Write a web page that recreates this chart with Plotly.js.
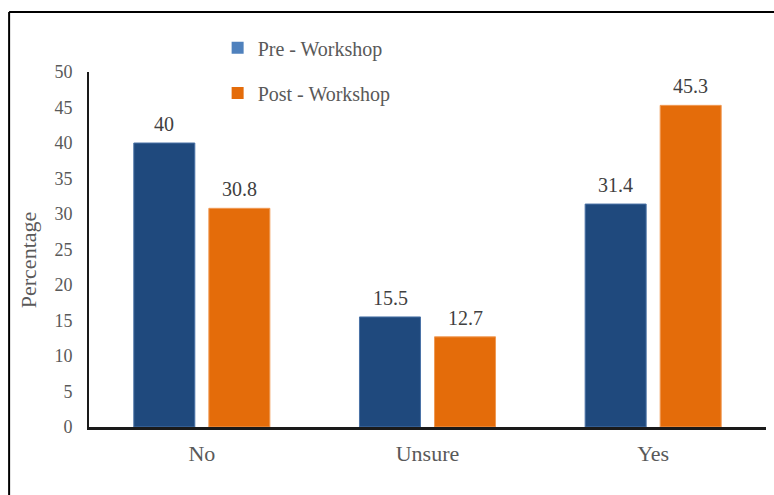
<!DOCTYPE html>
<html>
<head>
<meta charset="utf-8">
<script src="https://cdn.plot.ly/plotly-3.0.1.min.js"></script>
<style>
  html, body { margin: 0; padding: 0; background: #ffffff; }
  #chart { width: 774px; height: 495px; }
</style>
</head>
<body>
<div id="chart"></div>
<script>
// Survey responses before and after the workshop (percent of respondents)
const categories = ['No', 'Unsure', 'Yes'];
const preWorkshop = [40, 15.5, 31.4];
const postWorkshop = [30.8, 12.7, 45.3];
const seriesNames = ['Pre - Workshop', 'Post - Workshop'];
const yTicks = [0, 5, 10, 15, 20, 25, 30, 35, 40, 45, 50];
const yTitle = 'Percentage';

const barBlue = '#1F497D';
const barOrange = '#E46C0A';
const keyBlue = '#4F81BD';
const keyOrange = '#E46C0A';
const serif = 'Liberation Serif';

const barTrace = (name, values, fill, edge, group) => ({
  type: 'bar',
  name: name,
  x: categories,
  y: values,
  offsetgroup: group,
  marker: { color: fill, line: { color: edge, width: 1 } },
  showlegend: false,
  hoverinfo: 'x+y'
});

// legend-only swatches, each in its own legend box
const keyTrace = (name, fill, legendId, group) => ({
  type: 'bar',
  name: name,
  x: [null],
  y: [null],
  offsetgroup: group,
  marker: { color: fill },
  showlegend: true,
  legend: legendId,
  hoverinfo: 'skip'
});

const data = [
  barTrace(seriesNames[0], preWorkshop, barBlue, '#4A72A6', 'pre'),
  barTrace(seriesNames[1], postWorkshop, barOrange, '#F09A55', 'post'),
  keyTrace(seriesNames[0], keyBlue, 'legend', 'pre'),
  keyTrace(seriesNames[1], keyOrange, 'legend2', 'post')
];

// value labels above each bar; the two groups sit half a bar slot either side
const slotShift = 37.5;
const valueLabels = (values, shift) => values.map((v, i) => ({
  x: categories[i],
  y: v,
  xref: 'x',
  yref: 'y',
  text: String(v),
  showarrow: false,
  xanchor: 'center',
  yanchor: 'bottom',
  xshift: shift,
  yshift: 6,
  font: { family: serif, size: 20, color: '#404040' }
}));

// rotated axis title, sitting a little below the plot's middle
const axisTitle = {
  text: yTitle,
  xref: 'paper',
  yref: 'paper',
  x: -0.090,
  y: 0.47,
  xanchor: 'center',
  yanchor: 'middle',
  textangle: -90,
  showarrow: false,
  font: { family: serif, size: 22, color: '#595959' }
};

const legendStyle = (yPos) => ({
  x: 0.19,
  xanchor: 'left',
  y: yPos,
  yanchor: 'middle',
  bgcolor: 'rgba(0,0,0,0)',
  borderwidth: 0,
  font: { family: serif, size: 20, color: '#595959' },
  itemwidth: 30
});

const layout = {
  width: 774,
  height: 495,
  margin: { l: 89, r: 8, t: 72, b: 68 },
  paper_bgcolor: '#ffffff',
  plot_bgcolor: '#ffffff',
  barmode: 'group',
  bargap: 0.335,
  bargroupgap: 0.187,
  font: { family: serif, color: '#595959' },
  xaxis: {
    type: 'category',
    showgrid: false,
    showline: true,
    linecolor: '#1a1a1a',
    linewidth: 2.5,
    ticks: '',
    ticklabelstandoff: 5,
    tickfont: { family: serif, size: 22, color: '#595959' },
    zeroline: false,
    fixedrange: true
  },
  yaxis: {
    range: [0, 50],
    tickvals: yTicks,
    ticktext: yTicks.map(String),
    showgrid: false,
    showline: true,
    linecolor: '#1a1a1a',
    linewidth: 2,
    ticks: '',
    ticklabelstandoff: 11,
    tickfont: { family: serif, size: 18, color: '#595959' },
    zeroline: false,
    fixedrange: true
  },
  legend: legendStyle(1.068),
  legend2: legendStyle(0.941),
  annotations: valueLabels(preWorkshop, -slotShift)
    .concat(valueLabels(postWorkshop, slotShift))
    .concat([axisTitle]),
  shapes: [
    {
      type: 'line', xref: 'paper', yref: 'paper',
      x0: -0.118, x1: -0.118, y0: -0.3, y1: 1.169,
      line: { color: '#000000', width: 2 }
    },
    {
      type: 'line', xref: 'paper', yref: 'paper',
      x0: -0.118, x1: 1.2, y0: 1.169, y1: 1.169,
      line: { color: '#000000', width: 2 }
    }
  ]
};

Plotly.newPlot('chart', data, layout, { displayModeBar: false, staticPlot: true });
</script>
</body>
</html>
